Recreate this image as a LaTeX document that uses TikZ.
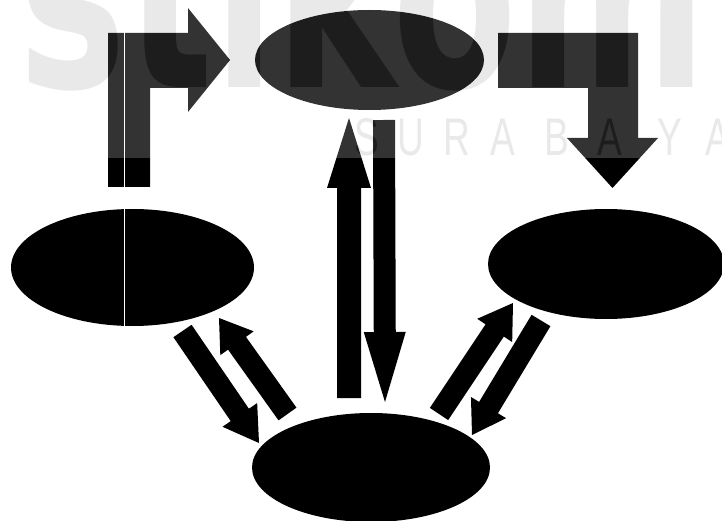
\documentclass[tikz,border=0pt]{standalone}
\usepackage{fontspec}
\usetikzlibrary{shapes.geometric,calc}
\newfontfamily\wmbig{DejaVu Sans}[FakeStretch=0.7]
\newfontfamily\wmsmall{Liberation Sans}[FakeStretch=0.7]
\definecolor{wmgray}{HTML}{959595}
\tikzset{
  blob/.style={ellipse, fill=black, inner sep=0pt, draw=none},
  blockfill/.style={fill=black},
  wmletter/.style={text=wmgray, inner sep=0pt, anchor=base,
    font={\fontsize{53}{53}\selectfont\wmsmall}},
}
% block arrow: #1 tail, #2 tip, #3 shaft half width, #4 head half width, #5 head length
\newcommand\blockarr[5]{%
  \coordinate (ba-n) at ($(#2)!#5!(#1)$);
  \fill[blockfill] ($(#1)!#3!90:(#2)$) -- ($(ba-n)!#3!90:(#2)$) -- ($(ba-n)!#4!90:(#2)$)
    -- (#2) -- ($(ba-n)!#4!-90:(#2)$) -- ($(ba-n)!#3!-90:(#2)$) -- ($(#1)!#3!-90:(#2)$) -- cycle;
}
\begin{document}
\begin{tikzpicture}[x=1pt,y=-1pt]
\useasboundingbox (0,0) rectangle (722,521);
\clip (0,0) rectangle (722,521);
\fill[white] (0,0) rectangle (722,521);

% ellipses
\node[blob, minimum width=229pt, minimum height=100pt] (top) at (369.5,60) {};
\node[blob, minimum width=243pt, minimum height=117pt] (left) at (132.5,267.5) {};
\node[blob, minimum width=236pt, minimum height=110pt] (right) at (606,264) {};
\node[blob, minimum width=238pt, minimum height=109pt] (bottom) at (371,467.5) {};

% L-shaped arrow: left -> top
\fill[blockfill] (108,187) -- (108,33) -- (188,33) -- (188,8) -- (230,60) -- (188,112)
  -- (188,88) -- (150,88) -- (150,187) -- cycle;
% L-shaped arrow: top -> right
\fill[blockfill] (498,33) -- (638,33) -- (638,138) -- (658,138) -- (612.5,188) -- (567,138)
  -- (588,138) -- (588,88) -- (498,88) -- cycle;

% straight block arrows
\coordinate (cu-a) at (349,398); \coordinate (cu-b) at (349,118);
\coordinate (cd-a) at (384,120); \coordinate (cd-b) at (385,402);
\coordinate (ld-a) at (182.5,331); \coordinate (ld-b) at (259,443);
\coordinate (lu-a) at (287.5,414); \coordinate (lu-b) at (219,318);
\coordinate (ru-a) at (439,414); \coordinate (ru-b) at (513,303);
\coordinate (rd-a) at (541,320.5); \coordinate (rd-b) at (472,435);
\blockarr{cu-a}{cu-b}{12pt}{22pt}{70pt}
\blockarr{cd-a}{cd-b}{11pt}{21pt}{70pt}
\blockarr{ld-a}{ld-b}{11pt}{21pt}{34pt}
\blockarr{lu-a}{lu-b}{11pt}{20.5pt}{31pt}
\blockarr{ru-a}{ru-b}{11pt}{21pt}{33pt}
\blockarr{rd-a}{rd-b}{11pt}{20.5pt}{32pt}

% thin white line through left parts
\draw[white, line width=1.1pt] (124.5,30) -- (124.5,330);

% watermark
\begin{scope}[transparency group, opacity=0.2]
  \fill[white] (0,0) rectangle (722,158);
  \node[text=wmgray, inner sep=0pt, anchor=base west,
    font={\fontsize{260}{260}\selectfont\wmbig\bfseries}] (wm) at (18,88) {stikom};
  \node[wmletter] (w1) at (367,156) {S};
  \node[wmletter] (w2) at (411,156) {U};
  \node[wmletter] (w3) at (457,156) {R};
  \node[wmletter] (w4) at (503,156) {A};
  \node[wmletter] (w5) at (557,156) {B};
  \node[wmletter] (w6) at (610,156) {A};
  \node[wmletter] (w7) at (670,156) {Y};
  \node[wmletter] (w8) at (718,156) {A};
\end{scope}
\end{tikzpicture}
\end{document}
